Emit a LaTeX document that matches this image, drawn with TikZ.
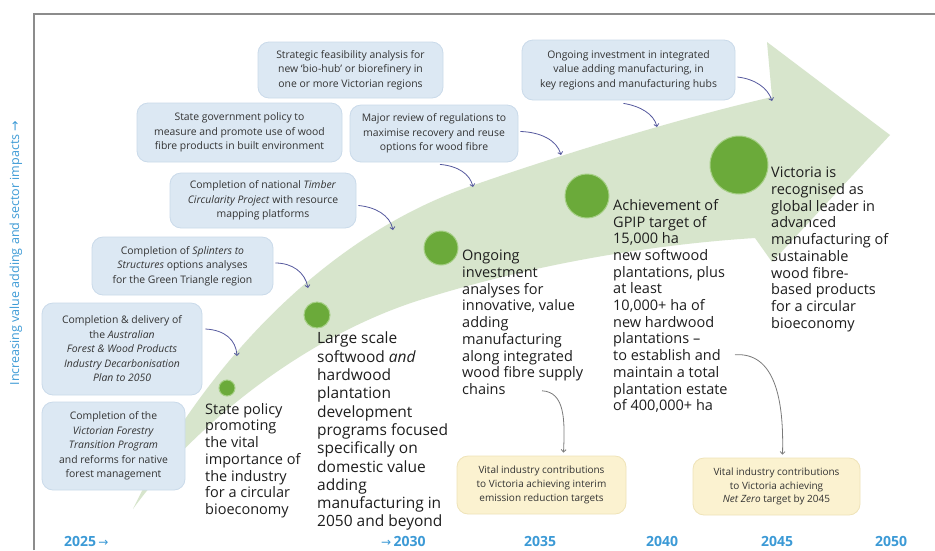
\documentclass[tikz,border=0pt]{standalone}
\usepackage{fontspec}
\setmainfont{Open Sans}
\newfontfamily\arr{DejaVu Sans}
\usetikzlibrary{arrows.meta,calc}
\definecolor{bandc}{HTML}{D7E5CC}
\definecolor{dotc}{HTML}{6BAA3A}
\definecolor{dotring}{HTML}{A6CF86}
\definecolor{bluebox}{HTML}{DCE8F3}
\definecolor{blueedge}{HTML}{CADAEA}
\definecolor{yelbox}{HTML}{FBF2D0}
\definecolor{yeledge}{HTML}{EFE3B8}
\definecolor{connc}{HTML}{55599E}
\definecolor{grayc}{HTML}{7A7A7A}
\definecolor{yearblue}{HTML}{3C9AD6}
\definecolor{txt}{HTML}{1E1E1E}
\definecolor{boxtxt}{HTML}{333333}
\definecolor{framec}{HTML}{8C8C8C}
\tikzset{
  callout/.style={fill=bluebox, draw=blueedge, line width=0.8pt, rounded corners=11pt,
    align=center, text=boxtxt, font=\fontsize{10.4}{14.5}\selectfont, inner sep=0pt},
  yellowbox/.style={fill=yelbox, draw=yeledge, line width=0.8pt, rounded corners=11pt,
    align=center, text=boxtxt, font=\fontsize{10}{13.8}\selectfont, inner sep=0pt},
  milestone/.style={circle, fill=dotc, draw=dotring, line width=1pt, inner sep=0pt},
  maintext/.style={anchor=north west, align=left, inner sep=0pt, text=txt,
    font=\fontsize{14.5}{16.7}\selectfont},
  bigtext/.style={maintext, font=\fontsize{15.5}{18.3}\selectfont},
  conn/.style={draw=connc, line width=0.8pt, -{Straight Barb[length=2.5pt,width=5pt]}},
  grayconn/.style={draw=grayc, line width=0.8pt, -{Straight Barb[length=2.5pt,width=5pt]}},
  year/.style={text=yearblue, font=\fontsize{14}{16}\selectfont\bfseries, inner sep=0pt},
  yeararrow/.style={}
}
\newcommand{\yarr}{{\arr\mdseries\fontsize{12}{14}\selectfont →}}
\begin{document}
\begin{tikzpicture}[x=1pt,y=-1pt]
\useasboundingbox (0,0) rectangle (935,550);
\fill[white] (0,0) rectangle (935,550);
% frame
\draw[framec, line width=1.3pt] (34,550) -- (34,14) -- (935,14);
% vertical label
\node[rotate=90, text=yearblue, font=\fontsize{12.5}{14}\selectfont, inner sep=0pt] (vlab) at (16,253)
  {Increasing value adding and sector impacts {\arr →}};
% green band arrow
\fill[bandc] (133,509) .. controls (190,390) and (310,240) .. (474,185)
  .. controls (560,155) and (680,118) .. (772,97)
  -- (767,42) -- (890,135) -- (772,262) -- (755,238)
  .. controls (660,244) and (540,262) .. (420,300)
  .. controls (300,338) and (190,430) .. (133,509) -- cycle;
% milestones
\node[milestone, minimum size=16pt] (m1) at (227,388) {};
\node[milestone, minimum size=26pt] (m2) at (317,315) {};
\node[milestone, minimum size=34pt] (m3) at (441,248) {};
\node[milestone, minimum size=44pt] (m4) at (587,196) {};
\node[milestone, minimum size=58pt] (m5) at (739,165) {};
% main texts
\node[maintext] (t1) at (205,403) {State policy\\promoting\\the vital\\importance of\\the industry\\for a circular\\bioeconomy};
\node[bigtext] (t2) at (317,332) {Large scale\\softwood \textit{and}\\hardwood\\plantation\\development\\programs focused\\specifically on\\domestic value\\adding\\manufacturing in\\2050 and beyond};
\node[maintext] (t3) at (462,250) {Ongoing\\investment\\analyses for\\innovative, value\\adding\\manufacturing\\along integrated\\wood fibre supply\\chains};
\node[maintext] (t4) at (613,199) {Achievement of\\GPIP target of\\15,000 ha\\new softwood\\plantations, plus\\at least\\10,000+ ha of\\new hardwood\\plantations –\\to establish and\\maintain a total\\plantation estate\\of 400,000+ ha};
\node[maintext] (t5) at (771,167) {Victoria is\\recognised as\\global leader in\\advanced\\manufacturing of\\sustainable\\wood fibre-\\based products\\for a circular\\bioeconomy};
% callouts
\node[callout, minimum width=185pt, minimum height=56pt] (b1) at (350.5,70) {Strategic feasibility analysis for\\new ‘bio-hub’ or biorefinery in\\one or more Victorian regions};
\node[callout, minimum width=205pt, minimum height=59pt] (b2) at (239.5,132.5) {State government policy to\\measure and promote use of wood\\fibre products in built environment};
\node[callout, minimum width=186pt, minimum height=55pt] (b3) at (263,200.5) {Completion of national \textit{Timber}\\\textit{Circularity Project} with resource\\mapping platforms};
\node[callout, minimum width=181pt, minimum height=58pt] (b4) at (182.5,266) {Completion of \textit{Splinters to}\\\textit{Structures} options analyses\\for the Green Triangle region};
\node[callout, minimum width=160pt, minimum height=92pt] (b5) at (122,349) {Completion \& delivery of\\the \textit{Australian}\\\textit{Forest \& Wood Products}\\\textit{Industry Decarbonisation}\\\textit{Plan to 2050}};
\node[callout, minimum width=143pt, minimum height=88pt] (b6) at (113.5,446) {Completion of the\\\textit{Victorian Forestry}\\\textit{Transition Program}\\and reforms for native\\forest management};
\node[callout, minimum width=168pt, minimum height=57pt] (b7) at (434,133.5) {Major review of regulations to\\maximise recovery and reuse\\options for wood fibre};
\node[callout, minimum width=213pt, minimum height=60pt] (b8) at (628.5,70) {Ongoing investment in integrated\\value adding manufacturing, in\\key regions and manufacturing hubs};
% yellow boxes
\node[yellowbox, minimum width=169pt, minimum height=58pt] (y1) at (541.5,485) {Vital industry contributions\\to Victoria achieving interim\\emission reduction targets};
\node[yellowbox, minimum width=167pt, minimum height=57pt] (y2) at (776.5,486.5) {Vital industry contributions\\to Victoria achieving\\\textit{Net Zero} target by 2045};
% band edge targets
\coordinate (e5) at (237,356);
\coordinate (e4) at (308,288);
\coordinate (e3) at (393,230);
\coordinate (e7a) at (473,187);
\coordinate (e7b) at (561,155);
\coordinate (e8a) at (657,127);
\coordinate (e8b) at (772,101);
% connectors
\draw[conn] ($(b5.east)+(3,-20)$) .. controls (225,330) and (236,340) .. (e5);
\draw[conn] ($(b4.east)+(2,-3)$) .. controls (292,263) and (305,272) .. (e4);
\draw[conn] ($(b3.east)+(2,5)$) .. controls (375,207) and (390,215) .. (e3);
\draw[conn] ($(b7.south)+(6,2)$) .. controls (458,166) and (470,174) .. (e7a);
\draw[conn] ($(b7.east)+(2,-2)$) .. controls (540,132) and (557,140) .. (e7b);
\draw[conn] ($(b8.south)+(-5,3)$) .. controls (640,106) and (654,114) .. (e8a);
\draw[conn] ($(b8.east)+(2,7)$) .. controls (755,79) and (768,88) .. (e8b);
\draw[grayconn] ($(t3.south west)+(80,-4)$) .. controls (565,392) and (565,420) .. ($(y1.north)+(22,-3)$);
\draw[grayconn] ($(t4.south west)+(122,-58)$) .. controls (775,352) and (784,400) .. ($(y2.north)+(6,-3)$);
% years
\node[year, anchor=west] (y2025) at (64,541) {2025\,\yarr};
\node[year, anchor=west] (y2030) at (381,541) {\yarr\,2030};
\node[year] (y2035) at (540,541) {2035};
\node[year] (y2040) at (662,541) {2040};
\node[year] (y2045) at (777,541) {2045};
\node[year] (y2050) at (891,541) {2050};
\end{tikzpicture}
\end{document}
